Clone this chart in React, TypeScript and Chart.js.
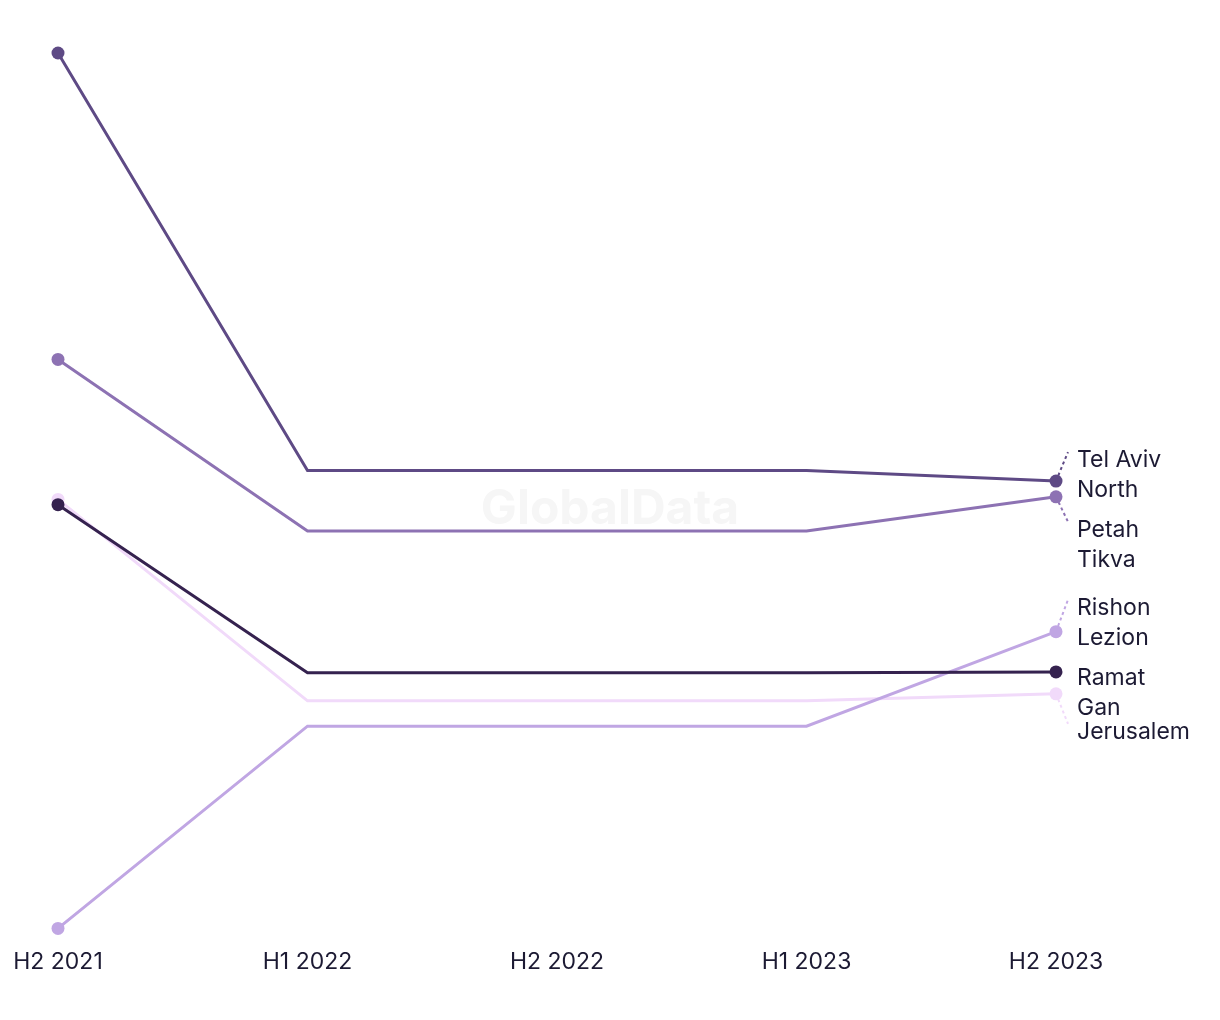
import React, { useEffect, useRef } from "react";
import { Chart, registerables } from "chart.js";

Chart.register(...registerables);

const categories = ["H2 2021", "H1 2022", "H2 2022", "H1 2023", "H2 2023"];

const telAvivNorth = [100, 52.3, 52.3, 52.3, 51.1];
const petahTikva = [65.0, 45.4, 45.4, 45.4, 49.3];
const ramatGan = [48.4, 29.2, 29.2, 29.2, 29.3];
const jerusalem = [49.0, 26.0, 26.0, 26.0, 26.8];
const rishonLezion = [0, 23.1, 23.1, 23.1, 33.9];

const seriesNames = [
  ["Tel Aviv", "North"],
  ["Ramat", "Gan"],
  ["Petah", "Tikva"],
  ["Rishon", "Lezion"],
  ["Jerusalem"],
];
const seriesData = [telAvivNorth, ramatGan, petahTikva, rishonLezion, jerusalem];
const seriesColors = ["#5e4a85", "#35224f", "#8d72b3", "#c0a6e3", "#f1dafa"];
// label block offset (px) from last point, and whether a leader line is drawn
const labelOffsets = [-21, 6, 33, -24, 38];
const labelLeaders = [true, false, true, true, true];

const FONT = "Inter, 'Noto Sans', sans-serif";

const watermarkPlugin = {
  id: "watermark",
  beforeDraw(chart: any) {
    const ctx = chart.ctx;
    ctx.save();
    ctx.font = `bold 48px ${FONT}`;
    ctx.fillStyle = "#f6f6f6";
    ctx.textAlign = "center";
    ctx.textBaseline = "middle";
    ctx.fillText("GlobalData", chart.width / 2, chart.height / 2);
    ctx.restore();
  },
};

const endLabelPlugin = {
  id: "endLabels",
  afterDatasetsDraw(chart: any) {
    const ctx = chart.ctx;
    ctx.save();
    chart.data.datasets.forEach((ds: any, i: number) => {
      const meta = chart.getDatasetMeta(i);
      const pt = meta.data[meta.data.length - 1];
      const x = pt.x;
      const y = pt.y;
      const lines = seriesNames[i];
      const firstY = y + labelOffsets[i];
      if (labelLeaders[i]) {
        ctx.beginPath();
        ctx.setLineDash([3, 3]);
        ctx.lineWidth = 2;
        ctx.strokeStyle = seriesColors[i];
        ctx.moveTo(x, y);
        ctx.lineTo(x + 12, firstY - 8);
        ctx.stroke();
        ctx.setLineDash([]);
      }
      ctx.font = `23px ${FONT}`;
      ctx.fillStyle = "#1c1a33";
      ctx.textAlign = "left";
      ctx.textBaseline = "middle";
      lines.forEach((t: string, k: number) => {
        ctx.fillText(t, x + 21, firstY + k * 30);
      });
    });
    ctx.restore();
  },
};

export default function App() {
  const ref = useRef<HTMLCanvasElement | null>(null);
  useEffect(() => {
    if (!ref.current) return;
    const chart = new Chart(ref.current, {
      type: "line",
      data: {
        labels: categories,
        datasets: seriesData.map((d, i) => ({
          label: seriesNames[i].join(" "),
          data: d,
          borderColor: seriesColors[i],
          backgroundColor: seriesColors[i],
          borderWidth: 3,
          tension: 0,
          clip: false as any,
          pointRadius: (c: any) =>
            c.dataIndex === 0 || c.dataIndex === categories.length - 1 ? 6.5 : 0,
          pointHoverRadius: 0,
          pointBorderWidth: 0,
        })),
      },
      options: {
        responsive: false,
        animation: false,
        devicePixelRatio: 1,
        layout: { padding: { left: 50, right: 156, top: 45, bottom: 16 } },
        plugins: {
          legend: { display: false },
          tooltip: { enabled: false },
        },
        scales: {
          x: {
            offset: false,
            grid: { display: false, drawTicks: false },
            border: { display: false },
            afterFit: (scale: any) => {
              scale.paddingLeft = 0;
              scale.paddingRight = 0;
            },
            ticks: {
              padding: 20,
              color: "#1c1a33",
              font: { family: FONT, size: 23 },
              maxRotation: 0,
              autoSkip: false,
            },
          },
          y: {
            display: false,
            min: 0,
            max: 100,
          },
        },
      },
      plugins: [watermarkPlugin, endLabelPlugin],
    });
    return () => chart.destroy();
  }, []);
  return (
    <div style={{ width: 1204, height: 1004 }}>
      <canvas ref={ref} width={1204} height={1004} />
    </div>
  );
}
